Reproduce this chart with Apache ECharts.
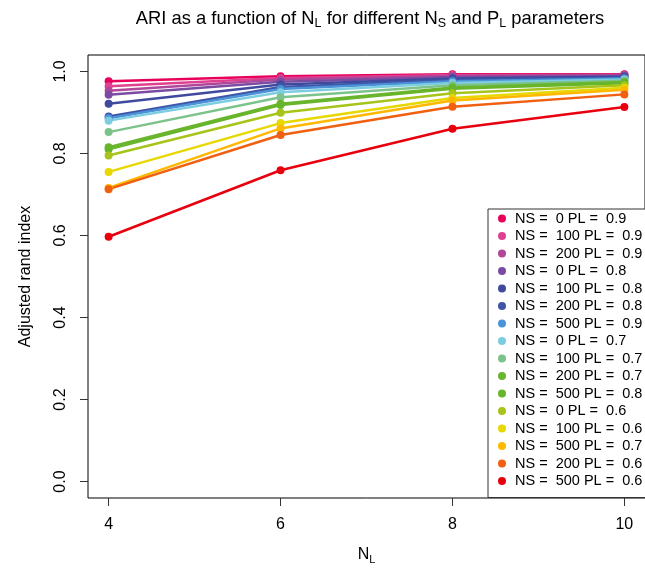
<!DOCTYPE html>
<html>
<head>
<meta charset="utf-8">
<script src="https://cdn.jsdelivr.net/npm/echarts@6/dist/echarts.min.js"></script>
<style>
  html, body { margin: 0; padding: 0; background: #fff; }
  #chart { width: 645px; height: 571px; }
</style>
</head>
<body>
<div id="chart"></div>
<script>
// N_L values on the x axis
const nlValues = [4, 6, 8, 10];

// legend order: NS and PL of each curve
const nsValues = [0, 100, 200, 0, 100, 200, 500, 0, 100, 200, 500, 0, 100, 500, 200, 500];
const plValues = [0.9, 0.9, 0.9, 0.8, 0.8, 0.8, 0.9, 0.7, 0.7, 0.7, 0.8, 0.6, 0.6, 0.7, 0.6, 0.6];

// ARI for N_L = 4, 6, 8, 10 (one row per curve, same order)
const ariValues = [
  [0.976, 0.988, 0.993, 0.993],
  [0.964, 0.984, 0.991, 0.992],
  [0.953, 0.980, 0.989, 0.991],
  [0.943, 0.975, 0.986, 0.989],
  [0.921, 0.968, 0.983, 0.987],
  [0.890, 0.962, 0.979, 0.985],
  [0.886, 0.957, 0.976, 0.983],
  [0.880, 0.949, 0.972, 0.980],
  [0.852, 0.937, 0.966, 0.977],
  [0.815, 0.921, 0.961, 0.974],
  [0.810, 0.918, 0.958, 0.971],
  [0.795, 0.899, 0.947, 0.966],
  [0.755, 0.874, 0.935, 0.960],
  [0.716, 0.861, 0.929, 0.955],
  [0.713, 0.845, 0.914, 0.944],
  [0.597, 0.759, 0.860, 0.913]
];

const colors = [
  '#e8005a', '#e0408f', '#b0479a', '#7a4ba0', '#3f4a9e', '#3f55a8', '#4b93d8', '#7dcde0',
  '#7cc28b', '#6bb52e', '#66b52a', '#a6c41a', '#e6d800', '#ffb800', '#f06010', '#e8000e'
];

const xTicks = [4, 6, 8, 10];
const yTicks = [0, 0.2, 0.4, 0.6, 0.8, 1.0];

const FONT = 'Liberation Sans';

const chart = echarts.init(document.getElementById('chart'));

const names = nsValues.map((ns, i) => 'NS =  ' + ns + ' PL =  ' + plValues[i]);

const series = ariValues.map((row, i) => ({
  name: names[i],
  type: 'line',
  data: row.map((v, j) => [nlValues[j], v]),
  symbol: 'circle',
  symbolSize: 8,
  color: colors[i],
  lineStyle: { width: 2.5, color: colors[i] },
  itemStyle: { color: colors[i] },
  animation: false
}));

chart.setOption({
  animation: false,
  textStyle: { fontFamily: FONT },
  title: {
    text: 'ARI as a function of N{s|L} for different N{s|S} and P{s|L} parameters',
    left: 365,
    top: 3,
    textAlign: 'center',
    textStyle: {
      fontFamily: FONT,
      fontSize: 18.4,
      fontWeight: 'normal',
      color: '#000',
      lineHeight: 22,
      rich: {
        s: { fontFamily: FONT, fontSize: 12.5, lineHeight: 12, verticalAlign: 'bottom', color: '#000' }
      }
    }
  },
  grid: {
    left: 88,
    top: 55,
    width: 560,
    height: 443,
    show: true,
    borderColor: '#000',
    borderWidth: 1,
    backgroundColor: 'transparent'
  },
  legend: {
    data: names,
    orient: 'vertical',
    left: 488,
    top: 209,
    icon: 'circle',
    itemWidth: 8,
    itemHeight: 8,
    itemGap: 2.5,
    padding: [2, 8, 9, 10],
    borderColor: '#333',
    borderWidth: 1,
    backgroundColor: '#fff',
    selectedMode: false,
    textStyle: { fontFamily: FONT, fontSize: 14.5, lineHeight: 14, color: '#000', padding: [0, 0, 0, 4] }
  },
  xAxis: {
    type: 'value',
    min: 3.76,
    max: 10.24,
    name: 'N{s|L}',
    nameLocation: 'middle',
    nameGap: 47,
    nameTextStyle: {
      fontFamily: FONT, fontSize: 16, color: '#000', lineHeight: 20,
      rich: { s: { fontFamily: FONT, fontSize: 11, lineHeight: 10, verticalAlign: 'bottom', color: '#000' } }
    },
    axisLine: { show: false, onZero: false },
    splitLine: { show: false },
    axisTick: { show: true, length: 8, customValues: xTicks, lineStyle: { color: '#333' } },
    axisLabel: { customValues: xTicks, margin: 19, fontSize: 16, color: '#000', fontFamily: FONT }
  },
  yAxis: {
    type: 'value',
    min: -0.04,
    max: 1.04,
    name: 'Adjusted rand index',
    nameLocation: 'middle',
    nameGap: 54,
    nameTextStyle: { fontFamily: FONT, fontSize: 16, color: '#000' },
    axisLine: { show: false, onZero: false },
    splitLine: { show: false },
    axisTick: { show: true, length: 8, customValues: yTicks, lineStyle: { color: '#333' } },
    axisLabel: {
      customValues: yTicks,
      rotate: 90,
      margin: 19,
      fontSize: 16,
      color: '#000',
      fontFamily: FONT,
      formatter: v => v.toFixed(1)
    }
  },
  series: series
});
</script>
</body>
</html>
